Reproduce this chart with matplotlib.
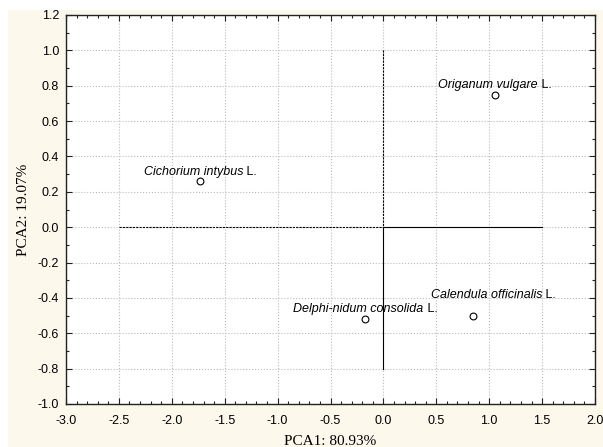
import matplotlib
matplotlib.use("Agg")
import matplotlib.pyplot as plt
from matplotlib.patches import Rectangle
from matplotlib.ticker import MultipleLocator, FormatStrFormatter

species_italic = ["Cichorium intybus", "Origanum vulgare", "Delphi-nidum consolida", "Calendula officinalis"]
pc1 = [-1.73, 1.055, -0.17, 0.85]
pc2 = [0.26, 0.75, -0.52, -0.50]
label_dx = [0, 0, 0, 14.5]   # label centre offsets in points
label_dy = [6.5, 7, 7, 14.5]

# loading-style axis segments
h_dash_x = [-2.5, 0.0]
h_solid_x = [0.0, 1.5]
v_dash_y = [1.0, 0.0]
v_solid_y = [0.0, -0.8]

cream = "#FDF8EC"
fig = plt.figure(figsize=(6.03, 4.47), dpi=100, facecolor="white")
fig.patches.append(Rectangle((8/603, 0), 1 - 8/603, 1 - 10/447, transform=fig.transFigure,
                             facecolor=cream, edgecolor="none", zorder=-10))
ax = fig.add_axes([66/603, 1 - 404/447, (595-66)/603, (404-15)/447])
ax.set_facecolor("white")

ax.set_xlim(-3.0, 2.0)
ax.set_ylim(-1.0, 1.2)
ax.xaxis.set_major_locator(MultipleLocator(0.5))
ax.xaxis.set_minor_locator(MultipleLocator(0.1))
ax.yaxis.set_major_locator(MultipleLocator(0.2))
ax.yaxis.set_minor_locator(MultipleLocator(0.1))
ax.xaxis.set_major_formatter(FormatStrFormatter("%.1f"))
ax.yaxis.set_major_formatter(FormatStrFormatter("%.1f"))
ax.tick_params(which="both", direction="in", top=True, right=True, labelsize=9,
               labelfontfamily="Liberation Sans", width=0.8, color="#222222")
ax.tick_params(which="major", length=4)
ax.tick_params(which="minor", length=2)
ax.tick_params(axis="x", which="major", pad=8)
ax.tick_params(axis="y", which="major", pad=5)
ax.grid(True, which="major", color="#BBBBBB", linestyle=":", linewidth=0.8)
for s in ax.spines.values():
    s.set_linewidth(1.0)
    s.set_color("#222222")

ax.plot(h_dash_x, [0, 0], color="black", linestyle=(0, (2, 1)), linewidth=0.8)
ax.plot(h_solid_x, [0, 0], color="black", linestyle="-", linewidth=0.8)
ax.plot([0, 0], v_dash_y, color="black", linestyle=(0, (2, 1)), linewidth=0.8)
ax.plot([0, 0], v_solid_y, color="black", linestyle="-", linewidth=0.8)

ax.scatter(pc1, pc2, s=24, facecolors="white", edgecolors="black", linewidths=0.8, zorder=5)

renderer = fig.canvas.get_renderer()
for name, x, y, dx, dy in zip(species_italic, pc1, pc2, label_dx, label_dy):
    t1 = ax.annotate(name, (x, y), xytext=(dx, dy), textcoords="offset points",
                     ha="left", va="center", fontsize=9, fontstyle="italic",
                     fontfamily="Liberation Sans")
    t2 = ax.annotate(" L.", (x, y), xytext=(dx, dy), textcoords="offset points",
                     ha="left", va="center", fontsize=9, fontfamily="Liberation Sans")
    w1 = t1.get_window_extent(renderer).width * 72 / fig.dpi
    w2 = t2.get_window_extent(renderer).width * 72 / fig.dpi
    start = dx - (w1 + w2) / 2
    t1.set_position((start, dy))
    t2.set_position((start + w1, dy))

ax.set_xlabel("PCA1: 80.93%", fontfamily="Liberation Serif", fontsize=11, labelpad=6)
ax.set_ylabel("PCA2: 19.07%", fontfamily="Liberation Serif", fontsize=11, labelpad=5.5)

fig.savefig("out.png", dpi=100, facecolor=fig.get_facecolor())
